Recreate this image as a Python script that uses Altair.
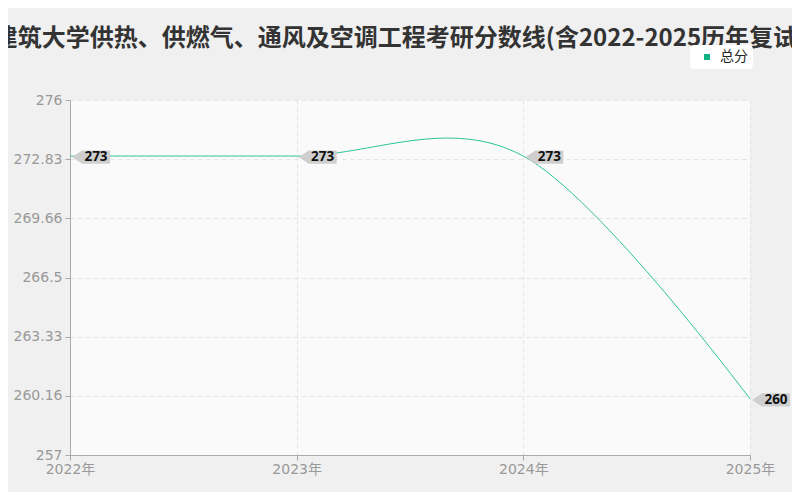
import altair as alt
import pandas as pd

years = ["2022年", "2023年", "2024年", "2025年"]
scores = [273, 273, 273, 260]
labels = ["273", "273", "273", "260"]
y_ticks = [257, 260.16, 263.33, 266.5, 269.66, 272.83, 276]
series_name = "总分"
title_text = "建筑大学供热、供燃气、通风及空调工程考研分数线(含2022-2025历年复试)"

df = pd.DataFrame({"year": years, "score": scores, "label": labels,
                   "series": [series_name] * len(years)})

NUM_FONT = "DejaVu Sans, Noto Sans CJK SC"
CJK_FONT = "Noto Sans CJK SC, DejaVu Sans"
LINE_COLOR = "#2cc39b"

x_enc = alt.X("year:O", sort=years,
              scale=alt.Scale(type="point", padding=0),
              axis=alt.Axis(title=None, labelAngle=0, labelColor="#999999",
                            labelFontSize=14, labelFont=NUM_FONT,
                            domainColor="#aaaaaa", tickColor="#aaaaaa",
                            tickSize=5, labelPadding=2,
                            grid=True, gridColor="#e2e2e2", gridDash=[4, 4]))
y_enc = alt.Y("score:Q",
              scale=alt.Scale(domain=[257, 276], nice=False, zero=False),
              axis=alt.Axis(title=None, values=y_ticks, format=".2~f",
                            labelColor="#999999", labelFontSize=14,
                            labelFont=NUM_FONT, domainColor="#aaaaaa",
                            tickColor="#aaaaaa", tickSize=5, labelPadding=3,
                            grid=True, gridColor="#e2e2e2", gridDash=[4, 4]))

base = alt.Chart(df).encode(x=x_enc, y=y_enc)

line = base.mark_line(interpolate="cardinal", tension=0, strokeWidth=1).encode(
    color=alt.Color("series:N",
                    scale=alt.Scale(range=[LINE_COLOR]),
                    legend=alt.Legend(title=None, orient="none",
                                      legendX=620, legendY=-55,
                                      fillColor="white", cornerRadius=4,
                                      padding=5, symbolType="square",
                                      symbolSize=36, symbolFillColor="#12b386",
                                      symbolStrokeColor="#12b386",
                                      symbolStrokeWidth=0, symbolOffset=5,
                                      labelFont=CJK_FONT, labelFontSize=14,
                                      labelColor="#222222", labelOffset=6,
                                      zindex=2))
)

tag_path = "M-1,0L-0.47,-0.35L1,-0.35L1,0.35L-0.47,0.35Z"
tags = base.mark_point(shape=tag_path, size=1444, filled=True,
                       color="#cfcfcf", opacity=1, xOffset=21, yOffset=1)

texts = base.mark_text(font="Noto Sans, DejaVu Sans", fontSize=13.5,
                       fontWeight="bold", color="#111111", align="center",
                       baseline="middle", dx=26, dy=1).encode(text="label:N")

chart = alt.layer(line, tags, texts).properties(
    width=680, height=355,
    autosize=alt.AutoSizeParams(type="none"),
    padding={"left": 62, "top": 92, "right": 42, "bottom": 37},
    background="#f0f0f0",
    title=alt.TitleParams(title_text, font=CJK_FONT, fontSize=24,
                          fontWeight="bold", color="#333333",
                          anchor="middle", dx=-10, offset=-6, zindex=0),
).configure_view(fill="#fafafa", stroke=None)

chart.save("out.html", embed_options={"renderer": "svg", "actions": False})
